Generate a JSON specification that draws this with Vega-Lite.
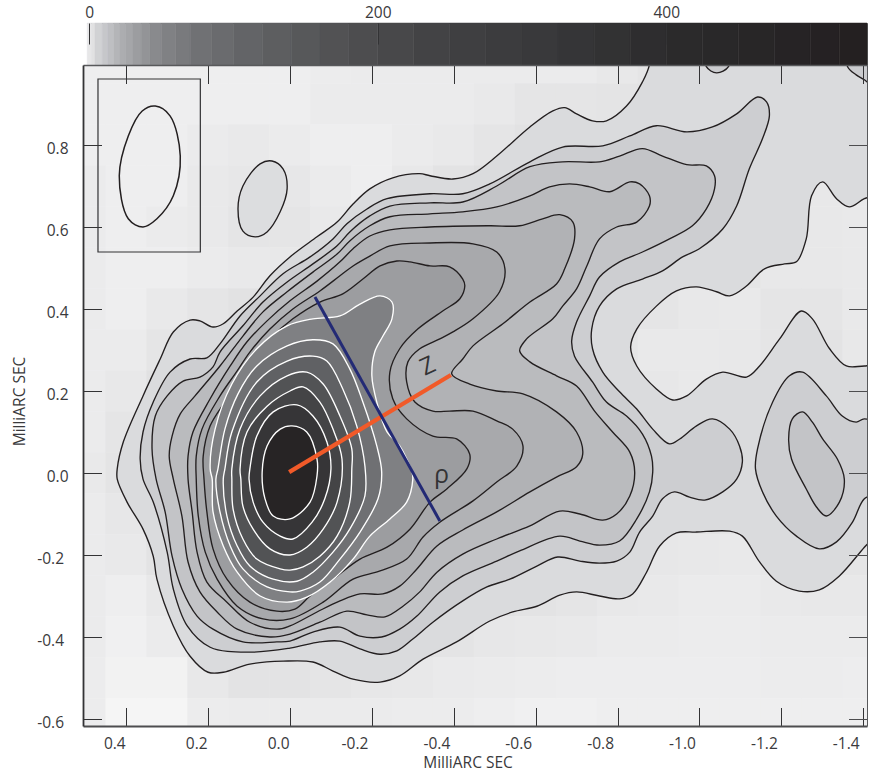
{"$schema":"https://vega.github.io/schema/vega-lite/v6.json","background":"white","padding":{"left":12,"top":4,"right":0,"bottom":2},"spacing":0,"bounds":"flush","resolve":{"scale":{"color":"independent","stroke":"independent","fill":"independent"}},"config":{"view":{"stroke":null},"font":"Open Sans","axis":{"labelFont":"Open Sans","titleFont":"Open Sans","labelFontSize":15.5,"titleFontSize":15.5,"titleFontWeight":"normal","labelColor":"#3a3a3c","titleColor":"#3a3a3c","grid":false,"zindex":1}},
"datasets":{
"bar":[{"from":-4.3,"to":-1.4,"v":0},{"from":-1.4,"to":1.4,"v":2.5},{"from":1.4,"to":4,"v":3.5},{"from":4,"to":9,"v":7},{"from":9,"to":13,"v":11},{"from":13,"to":17,"v":15},{"from":17,"to":21,"v":19},{"from":21,"to":25,"v":23},{"from":25,"to":30,"v":27},{"from":30,"to":36,"v":33},{"from":36,"to":42,"v":39},{"from":42,"to":50,"v":46},{"from":50,"to":60,"v":55},{"from":60,"to":70,"v":65},{"from":70,"to":85,"v":78},{"from":85,"to":100,"v":92},{"from":100,"to":120,"v":110},{"from":120,"to":140,"v":130},{"from":140,"to":160,"v":150},{"from":160,"to":180,"v":170},{"from":180,"to":200,"v":190},{"from":200,"to":225,"v":212},{"from":225,"to":250,"v":237},{"from":250,"to":275,"v":262},{"from":275,"to":300,"v":287},{"from":300,"to":325,"v":312},{"from":325,"to":350,"v":337},{"from":350,"to":375,"v":362},{"from":375,"to":400,"v":387},{"from":400,"to":425,"v":412},{"from":425,"to":450,"v":437},{"from":450,"to":475,"v":462},{"from":475,"to":500,"v":487},{"from":500,"to":520,"v":510},{"from":520,"to":539.2,"v":530}],
"grid":[
{"x":0.5,"y":1,"v":1.5},{"x":0.4,"y":1,"v":1.5},{"x":0.3,"y":1,"v":1.5},{"x":0.2,"y":1,"v":1.5},{"x":0.1,"y":1,"v":1.5},{"x":0,"y":1,"v":1.5},{"x":-0.1,"y":1,"v":1.8},{"x":-0.2,"y":1,"v":2},{"x":-0.3,"y":1,"v":2},{"x":-0.4,"y":1,"v":2},{"x":-0.5,"y":1,"v":2},{"x":-0.6,"y":1,"v":2},{"x":-0.7,"y":1,"v":2},{"x":-0.8,"y":1,"v":3},{"x":-0.9,"y":1,"v":4},{"x":-1,"y":1,"v":5},{"x":-1.1,"y":1,"v":5},{"x":-1.2,"y":1,"v":5},{"x":-1.3,"y":1,"v":5},{"x":-1.4,"y":1,"v":5},
{"x":0.5,"y":0.9,"v":1.5},{"x":0.4,"y":0.9,"v":1.5},{"x":0.3,"y":0.9,"v":1.5},{"x":0.2,"y":0.9,"v":1.5},{"x":0.1,"y":0.9,"v":1.5},{"x":0,"y":0.9,"v":1.5},{"x":-0.1,"y":0.9,"v":2},{"x":-0.2,"y":0.9,"v":2},{"x":-0.3,"y":0.9,"v":2},{"x":-0.4,"y":0.9,"v":2},{"x":-0.5,"y":0.9,"v":2.5},{"x":-0.6,"y":0.9,"v":4},{"x":-0.7,"y":0.9,"v":4},{"x":-0.8,"y":0.9,"v":4.5},{"x":-0.9,"y":0.9,"v":5},{"x":-1,"y":0.9,"v":5},{"x":-1.1,"y":0.9,"v":5},{"x":-1.2,"y":0.9,"v":4.5},{"x":-1.3,"y":0.9,"v":3.5},{"x":-1.4,"y":0.9,"v":3},
{"x":0.5,"y":0.8,"v":1.5},{"x":0.4,"y":0.8,"v":1.5},{"x":0.3,"y":0.8,"v":1.5},{"x":0.2,"y":0.8,"v":2},{"x":0.1,"y":0.8,"v":2.5},{"x":0,"y":0.8,"v":2},{"x":-0.1,"y":0.8,"v":1.5},{"x":-0.2,"y":0.8,"v":1.5},{"x":-0.3,"y":0.8,"v":2},{"x":-0.4,"y":0.8,"v":2.5},{"x":-0.5,"y":0.8,"v":4},{"x":-0.6,"y":0.8,"v":6},{"x":-0.7,"y":0.8,"v":8},{"x":-0.8,"y":0.8,"v":9},{"x":-0.9,"y":0.8,"v":8},{"x":-1,"y":0.8,"v":7},{"x":-1.1,"y":0.8,"v":6},{"x":-1.2,"y":0.8,"v":4},{"x":-1.3,"y":0.8,"v":3},{"x":-1.4,"y":0.8,"v":2.5},
{"x":0.5,"y":0.7,"v":2},{"x":0.4,"y":0.7,"v":1.5},{"x":0.3,"y":0.7,"v":1.5},{"x":0.2,"y":0.7,"v":2.5},{"x":0.1,"y":0.7,"v":3.5},{"x":0,"y":0.7,"v":3.5},{"x":-0.1,"y":0.7,"v":2},{"x":-0.2,"y":0.7,"v":1.5},{"x":-0.3,"y":0.7,"v":3},{"x":-0.4,"y":0.7,"v":5},{"x":-0.5,"y":0.7,"v":9},{"x":-0.6,"y":0.7,"v":11},{"x":-0.7,"y":0.7,"v":12},{"x":-0.8,"y":0.7,"v":12},{"x":-0.9,"y":0.7,"v":11},{"x":-1,"y":0.7,"v":8},{"x":-1.1,"y":0.7,"v":5},{"x":-1.2,"y":0.7,"v":3.5},{"x":-1.3,"y":0.7,"v":3},{"x":-1.4,"y":0.7,"v":2.5},
{"x":0.5,"y":0.6,"v":2},{"x":0.4,"y":0.6,"v":1.5},{"x":0.3,"y":0.6,"v":2},{"x":0.2,"y":0.6,"v":2.5},{"x":0.1,"y":0.6,"v":4},{"x":0,"y":0.6,"v":4},{"x":-0.1,"y":0.6,"v":2.5},{"x":-0.2,"y":0.6,"v":4},{"x":-0.3,"y":0.6,"v":8},{"x":-0.4,"y":0.6,"v":14},{"x":-0.5,"y":0.6,"v":16},{"x":-0.6,"y":0.6,"v":17},{"x":-0.7,"y":0.6,"v":15},{"x":-0.8,"y":0.6,"v":11},{"x":-0.9,"y":0.6,"v":8},{"x":-1,"y":0.6,"v":6},{"x":-1.1,"y":0.6,"v":4},{"x":-1.2,"y":0.6,"v":3},{"x":-1.3,"y":0.6,"v":3},{"x":-1.4,"y":0.6,"v":2.5},
{"x":0.5,"y":0.5,"v":2},{"x":0.4,"y":0.5,"v":1.5},{"x":0.3,"y":0.5,"v":1.5},{"x":0.2,"y":0.5,"v":2},{"x":0.1,"y":0.5,"v":2.5},{"x":0,"y":0.5,"v":3},{"x":-0.1,"y":0.5,"v":6},{"x":-0.2,"y":0.5,"v":14},{"x":-0.3,"y":0.5,"v":19},{"x":-0.4,"y":0.5,"v":22},{"x":-0.5,"y":0.5,"v":20},{"x":-0.6,"y":0.5,"v":17},{"x":-0.7,"y":0.5,"v":11},{"x":-0.8,"y":0.5,"v":8},{"x":-0.9,"y":0.5,"v":5.5},{"x":-1,"y":0.5,"v":4.5},{"x":-1.1,"y":0.5,"v":4},{"x":-1.2,"y":0.5,"v":3},{"x":-1.3,"y":0.5,"v":3},{"x":-1.4,"y":0.5,"v":2.5},
{"x":0.5,"y":0.4,"v":2},{"x":0.4,"y":0.4,"v":1.5},{"x":0.3,"y":0.4,"v":2.5},{"x":0.2,"y":0.4,"v":4},{"x":0.1,"y":0.4,"v":6},{"x":0,"y":0.4,"v":14},{"x":-0.1,"y":0.4,"v":33},{"x":-0.2,"y":0.4,"v":40},{"x":-0.3,"y":0.4,"v":30},{"x":-0.4,"y":0.4,"v":24},{"x":-0.5,"y":0.4,"v":17},{"x":-0.6,"y":0.4,"v":13},{"x":-0.7,"y":0.4,"v":8},{"x":-0.8,"y":0.4,"v":6},{"x":-0.9,"y":0.4,"v":4},{"x":-1,"y":0.4,"v":3},{"x":-1.1,"y":0.4,"v":2.5},{"x":-1.2,"y":0.4,"v":4},{"x":-1.3,"y":0.4,"v":4},{"x":-1.4,"y":0.4,"v":2.5},
{"x":0.5,"y":0.3,"v":2},{"x":0.4,"y":0.3,"v":2},{"x":0.3,"y":0.3,"v":4},{"x":0.2,"y":0.3,"v":8},{"x":0.1,"y":0.3,"v":15},{"x":0,"y":0.3,"v":40},{"x":-0.1,"y":0.3,"v":70},{"x":-0.2,"y":0.3,"v":50},{"x":-0.3,"y":0.3,"v":27},{"x":-0.4,"y":0.3,"v":19},{"x":-0.5,"y":0.3,"v":15},{"x":-0.6,"y":0.3,"v":11},{"x":-0.7,"y":0.3,"v":7},{"x":-0.8,"y":0.3,"v":4},{"x":-0.9,"y":0.3,"v":2.5},{"x":-1,"y":0.3,"v":2.5},{"x":-1.1,"y":0.3,"v":3},{"x":-1.2,"y":0.3,"v":4},{"x":-1.3,"y":0.3,"v":5},{"x":-1.4,"y":0.3,"v":3},
{"x":0.5,"y":0.2,"v":2},{"x":0.4,"y":0.2,"v":3},{"x":0.3,"y":0.2,"v":7},{"x":0.2,"y":0.2,"v":14},{"x":0.1,"y":0.2,"v":33},{"x":0,"y":0.2,"v":110},{"x":-0.1,"y":0.2,"v":110},{"x":-0.2,"y":0.2,"v":50},{"x":-0.3,"y":0.2,"v":24},{"x":-0.4,"y":0.2,"v":19},{"x":-0.5,"y":0.2,"v":16},{"x":-0.6,"y":0.2,"v":13},{"x":-0.7,"y":0.2,"v":9},{"x":-0.8,"y":0.2,"v":5},{"x":-0.9,"y":0.2,"v":3.5},{"x":-1,"y":0.2,"v":2.5},{"x":-1.1,"y":0.2,"v":3},{"x":-1.2,"y":0.2,"v":4.5},{"x":-1.3,"y":0.2,"v":6},{"x":-1.4,"y":0.2,"v":4},
{"x":0.5,"y":0.1,"v":2},{"x":0.4,"y":0.1,"v":4},{"x":0.3,"y":0.1,"v":9},{"x":0.2,"y":0.1,"v":17},{"x":0.1,"y":0.1,"v":50},{"x":0,"y":0.1,"v":200},{"x":-0.1,"y":0.1,"v":170},{"x":-0.2,"y":0.1,"v":70},{"x":-0.3,"y":0.1,"v":30},{"x":-0.4,"y":0.1,"v":24},{"x":-0.5,"y":0.1,"v":20},{"x":-0.6,"y":0.1,"v":15},{"x":-0.7,"y":0.1,"v":12},{"x":-0.8,"y":0.1,"v":7},{"x":-0.9,"y":0.1,"v":5},{"x":-1,"y":0.1,"v":5},{"x":-1.1,"y":0.1,"v":6},{"x":-1.2,"y":0.1,"v":5},{"x":-1.3,"y":0.1,"v":9},{"x":-1.4,"y":0.1,"v":5},
{"x":0.5,"y":0,"v":2.5},{"x":0.4,"y":0,"v":4.5},{"x":0.3,"y":0,"v":10},{"x":0.2,"y":0,"v":20},{"x":0.1,"y":0,"v":60},{"x":0,"y":0,"v":500},{"x":-0.1,"y":0,"v":280},{"x":-0.2,"y":0,"v":90},{"x":-0.3,"y":0,"v":45},{"x":-0.4,"y":0,"v":27},{"x":-0.5,"y":0,"v":20},{"x":-0.6,"y":0,"v":17},{"x":-0.7,"y":0,"v":13},{"x":-0.8,"y":0,"v":8},{"x":-0.9,"y":0,"v":7},{"x":-1,"y":0,"v":7},{"x":-1.1,"y":0,"v":6},{"x":-1.2,"y":0,"v":5.5},{"x":-1.3,"y":0,"v":13},{"x":-1.4,"y":0,"v":8},
{"x":0.5,"y":-0.1,"v":2},{"x":0.4,"y":-0.1,"v":3.5},{"x":0.3,"y":-0.1,"v":8},{"x":0.2,"y":-0.1,"v":18},{"x":0.1,"y":-0.1,"v":55},{"x":0,"y":-0.1,"v":400},{"x":-0.1,"y":-0.1,"v":220},{"x":-0.2,"y":-0.1,"v":70},{"x":-0.3,"y":-0.1,"v":35},{"x":-0.4,"y":-0.1,"v":22},{"x":-0.5,"y":-0.1,"v":17},{"x":-0.6,"y":-0.1,"v":14},{"x":-0.7,"y":-0.1,"v":11},{"x":-0.8,"y":-0.1,"v":7},{"x":-0.9,"y":-0.1,"v":5},{"x":-1,"y":-0.1,"v":5},{"x":-1.1,"y":-0.1,"v":4},{"x":-1.2,"y":-0.1,"v":5},{"x":-1.3,"y":-0.1,"v":9},{"x":-1.4,"y":-0.1,"v":6},
{"x":0.5,"y":-0.2,"v":2},{"x":0.4,"y":-0.2,"v":2.5},{"x":0.3,"y":-0.2,"v":5},{"x":0.2,"y":-0.2,"v":14},{"x":0.1,"y":-0.2,"v":30},{"x":0,"y":-0.2,"v":170},{"x":-0.1,"y":-0.2,"v":90},{"x":-0.2,"y":-0.2,"v":40},{"x":-0.3,"y":-0.2,"v":20},{"x":-0.4,"y":-0.2,"v":16},{"x":-0.5,"y":-0.2,"v":12},{"x":-0.6,"y":-0.2,"v":8},{"x":-0.7,"y":-0.2,"v":6},{"x":-0.8,"y":-0.2,"v":6},{"x":-0.9,"y":-0.2,"v":3.5},{"x":-1,"y":-0.2,"v":3},{"x":-1.1,"y":-0.2,"v":2.5},{"x":-1.2,"y":-0.2,"v":3.5},{"x":-1.3,"y":-0.2,"v":6},{"x":-1.4,"y":-0.2,"v":4},
{"x":0.5,"y":-0.3,"v":2},{"x":0.4,"y":-0.3,"v":1.5},{"x":0.3,"y":-0.3,"v":3},{"x":0.2,"y":-0.3,"v":9},{"x":0.1,"y":-0.3,"v":17},{"x":0,"y":-0.3,"v":45},{"x":-0.1,"y":-0.3,"v":30},{"x":-0.2,"y":-0.3,"v":20},{"x":-0.3,"y":-0.3,"v":14},{"x":-0.4,"y":-0.3,"v":10},{"x":-0.5,"y":-0.3,"v":7},{"x":-0.6,"y":-0.3,"v":5},{"x":-0.7,"y":-0.3,"v":4},{"x":-0.8,"y":-0.3,"v":3},{"x":-0.9,"y":-0.3,"v":2.5},{"x":-1,"y":-0.3,"v":2},{"x":-1.1,"y":-0.3,"v":2},{"x":-1.2,"y":-0.3,"v":2.5},{"x":-1.3,"y":-0.3,"v":3},{"x":-1.4,"y":-0.3,"v":3},
{"x":0.5,"y":-0.4,"v":2},{"x":0.4,"y":-0.4,"v":1.2},{"x":0.3,"y":-0.4,"v":2},{"x":0.2,"y":-0.4,"v":6},{"x":0.1,"y":-0.4,"v":10},{"x":0,"y":-0.4,"v":14},{"x":-0.1,"y":-0.4,"v":11},{"x":-0.2,"y":-0.4,"v":9},{"x":-0.3,"y":-0.4,"v":7},{"x":-0.4,"y":-0.4,"v":4.5},{"x":-0.5,"y":-0.4,"v":3.5},{"x":-0.6,"y":-0.4,"v":3},{"x":-0.7,"y":-0.4,"v":2.5},{"x":-0.8,"y":-0.4,"v":2},{"x":-0.9,"y":-0.4,"v":2},{"x":-1,"y":-0.4,"v":1.8},{"x":-1.1,"y":-0.4,"v":1.8},{"x":-1.2,"y":-0.4,"v":2},{"x":-1.3,"y":-0.4,"v":2},{"x":-1.4,"y":-0.4,"v":2},
{"x":0.5,"y":-0.5,"v":1.8},{"x":0.4,"y":-0.5,"v":1},{"x":0.3,"y":-0.5,"v":1},{"x":0.2,"y":-0.5,"v":3},{"x":0.1,"y":-0.5,"v":5},{"x":0,"y":-0.5,"v":5},{"x":-0.1,"y":-0.5,"v":4},{"x":-0.2,"y":-0.5,"v":3.5},{"x":-0.3,"y":-0.5,"v":3},{"x":-0.4,"y":-0.5,"v":2.2},{"x":-0.5,"y":-0.5,"v":2},{"x":-0.6,"y":-0.5,"v":1.8},{"x":-0.7,"y":-0.5,"v":1.6},{"x":-0.8,"y":-0.5,"v":1.6},{"x":-0.9,"y":-0.5,"v":1.6},{"x":-1,"y":-0.5,"v":1.6},{"x":-1.1,"y":-0.5,"v":1.6},{"x":-1.2,"y":-0.5,"v":1.8},{"x":-1.3,"y":-0.5,"v":1.8},{"x":-1.4,"y":-0.5,"v":1.6},
{"x":0.5,"y":-0.6,"v":1.8},{"x":0.4,"y":-0.6,"v":0.8},{"x":0.3,"y":-0.6,"v":0.8},{"x":0.2,"y":-0.6,"v":1.8},{"x":0.1,"y":-0.6,"v":2},{"x":0,"y":-0.6,"v":2},{"x":-0.1,"y":-0.6,"v":2},{"x":-0.2,"y":-0.6,"v":2},{"x":-0.3,"y":-0.6,"v":1.8},{"x":-0.4,"y":-0.6,"v":1.8},{"x":-0.5,"y":-0.6,"v":1.5},{"x":-0.6,"y":-0.6,"v":1.2},{"x":-0.7,"y":-0.6,"v":1.2},{"x":-0.8,"y":-0.6,"v":1.5},{"x":-0.9,"y":-0.6,"v":1.5},{"x":-1,"y":-0.6,"v":1.5},{"x":-1.1,"y":-0.6,"v":1.5},{"x":-1.2,"y":-0.6,"v":1.5},{"x":-1.3,"y":-0.6,"v":1.5},{"x":-1.4,"y":-0.6,"v":1.5}
],
"contours":[
{"contour":1,"x":-0.878,"y":1.059},{"contour":1,"x":-0.878,"y":0.996},{"contour":1,"x":-0.861,"y":0.954},{"contour":1,"x":-0.822,"y":0.895},{"contour":1,"x":-0.773,"y":0.859},{"contour":1,"x":-0.739,"y":0.859},{"contour":1,"x":-0.7,"y":0.876},{"contour":1,"x":-0.671,"y":0.891},{"contour":1,"x":-0.642,"y":0.883},{"contour":1,"x":-0.586,"y":0.844},{"contour":1,"x":-0.505,"y":0.773},{"contour":1,"x":-0.447,"y":0.73},{"contour":1,"x":-0.398,"y":0.717},{"contour":1,"x":-0.342,"y":0.725},{"contour":1,"x":-0.317,"y":0.73},{"contour":1,"x":-0.251,"y":0.72},{"contour":1,"x":-0.195,"y":0.693},{"contour":1,"x":-0.154,"y":0.656},{"contour":1,"x":-0.115,"y":0.612},{"contour":1,"x":-0.066,"y":0.576},{"contour":1,"x":0,"y":0.527},{"contour":1,"x":0.049,"y":0.481},{"contour":1,"x":0.09,"y":0.429},{"contour":1,"x":0.129,"y":0.395},{"contour":1,"x":0.163,"y":0.364},{"contour":1,"x":0.188,"y":0.356},{"contour":1,"x":0.22,"y":0.371},{"contour":1,"x":0.244,"y":0.373},{"contour":1,"x":0.285,"y":0.344},{"contour":1,"x":0.317,"y":0.278},{"contour":1,"x":0.359,"y":0.188},{"contour":1,"x":0.407,"y":0.076},{"contour":1,"x":0.422,"y":0.01},{"contour":1,"x":0.422,"y":-0.015},{"contour":1,"x":0.398,"y":-0.071},{"contour":1,"x":0.359,"y":-0.137},{"contour":1,"x":0.334,"y":-0.203},{"contour":1,"x":0.325,"y":-0.259},{"contour":1,"x":0.285,"y":-0.373},{"contour":1,"x":0.244,"y":-0.447},{"contour":1,"x":0.2,"y":-0.486},{"contour":1,"x":0.163,"y":-0.486},{"contour":1,"x":0.098,"y":-0.466},{"contour":1,"x":0.017,"y":-0.459},{"contour":1,"x":-0.056,"y":-0.461},{"contour":1,"x":-0.105,"y":-0.483},{"contour":1,"x":-0.154,"y":-0.503},{"contour":1,"x":-0.22,"y":-0.51},{"contour":1,"x":-0.268,"y":-0.495},{"contour":1,"x":-0.325,"y":-0.454},{"contour":1,"x":-0.407,"y":-0.412},{"contour":1,"x":-0.488,"y":-0.361},{"contour":1,"x":-0.544,"y":-0.339},{"contour":1,"x":-0.603,"y":-0.325},{"contour":1,"x":-0.659,"y":-0.298},{"contour":1,"x":-0.7,"y":-0.29},{"contour":1,"x":-0.756,"y":-0.3},{"contour":1,"x":-0.805,"y":-0.307},{"contour":1,"x":-0.837,"y":-0.295},{"contour":1,"x":-0.871,"y":-0.242},{"contour":1,"x":-0.903,"y":-0.178},{"contour":1,"x":-0.944,"y":-0.146},{"contour":1,"x":-0.993,"y":-0.144},{"contour":1,"x":-1.074,"y":-0.142},{"contour":1,"x":-1.105,"y":-0.154},{"contour":1,"x":-1.147,"y":-0.217},{"contour":1,"x":-1.188,"y":-0.264},{"contour":1,"x":-1.244,"y":-0.288},{"contour":1,"x":-1.293,"y":-0.285},{"contour":1,"x":-1.342,"y":-0.251},{"contour":1,"x":-1.403,"y":-0.181},{"contour":1,"x":-1.464,"y":-0.112},{"contour":1,"x":-1.464,"y":0.261},{"contour":1,"x":-1.403,"y":0.261},{"contour":1,"x":-1.359,"y":0.261},{"contour":1,"x":-1.318,"y":0.303},{"contour":1,"x":-1.276,"y":0.376},{"contour":1,"x":-1.249,"y":0.395},{"contour":1,"x":-1.196,"y":0.327},{"contour":1,"x":-1.147,"y":0.261},{"contour":1,"x":-1.115,"y":0.234},{"contour":1,"x":-1.057,"y":0.246},{"contour":1,"x":-1.017,"y":0.229},{"contour":1,"x":-0.969,"y":0.188},{"contour":1,"x":-0.935,"y":0.178},{"contour":1,"x":-0.895,"y":0.205},{"contour":1,"x":-0.847,"y":0.261},{"contour":1,"x":-0.832,"y":0.307},{"contour":1,"x":-0.847,"y":0.351},{"contour":1,"x":-0.895,"y":0.407},{"contour":1,"x":-0.944,"y":0.444},{"contour":1,"x":-0.993,"y":0.454},{"contour":1,"x":-1.042,"y":0.442},{"contour":1,"x":-1.074,"y":0.432},{"contour":1,"x":-1.115,"y":0.456},{"contour":1,"x":-1.159,"y":0.498},{"contour":1,"x":-1.208,"y":0.51},{"contour":1,"x":-1.237,"y":0.515},{"contour":1,"x":-1.261,"y":0.571},{"contour":1,"x":-1.274,"y":0.676},{"contour":1,"x":-1.301,"y":0.71},{"contour":1,"x":-1.335,"y":0.669},{"contour":1,"x":-1.366,"y":0.649},{"contour":1,"x":-1.403,"y":0.669},{"contour":1,"x":-1.464,"y":0.693},{"contour":1,"x":-1.464,"y":1.059},
{"contour":17,"x":0.044,"y":0.761},{"contour":17,"x":0.017,"y":0.742},{"contour":17,"x":0.007,"y":0.693},{"contour":17,"x":0.024,"y":0.637},{"contour":17,"x":0.056,"y":0.588},{"contour":17,"x":0.085,"y":0.576},{"contour":17,"x":0.115,"y":0.59},{"contour":17,"x":0.127,"y":0.644},{"contour":17,"x":0.115,"y":0.7},{"contour":17,"x":0.073,"y":0.754},
{"contour":18,"x":-1.017,"y":1.035},{"contour":18,"x":-1.017,"y":0.991},{"contour":18,"x":-1.042,"y":0.976},{"contour":18,"x":-1.071,"y":0.991},{"contour":18,"x":-1.071,"y":1.035},
{"contour":19,"x":-1.362,"y":1.035},{"contour":19,"x":-1.362,"y":0.991},{"contour":19,"x":-1.383,"y":0.971},{"contour":19,"x":-1.403,"y":0.959},{"contour":19,"x":-1.452,"y":0.925},{"contour":19,"x":-1.452,"y":1.035},
{"contour":2,"x":0.366,"y":0.034},{"contour":2,"x":0.359,"y":-0.015},{"contour":2,"x":0.334,"y":-0.071},{"contour":2,"x":0.3,"y":-0.193},{"contour":2,"x":0.285,"y":-0.283},{"contour":2,"x":0.251,"y":-0.373},{"contour":2,"x":0.195,"y":-0.425},{"contour":2,"x":0.098,"y":-0.437},{"contour":2,"x":0,"y":-0.427},{"contour":2,"x":-0.073,"y":-0.412},{"contour":2,"x":-0.122,"y":-0.41},{"contour":2,"x":-0.171,"y":-0.429},{"contour":2,"x":-0.22,"y":-0.442},{"contour":2,"x":-0.261,"y":-0.434},{"contour":2,"x":-0.3,"y":-0.405},{"contour":2,"x":-0.349,"y":-0.364},{"contour":2,"x":-0.422,"y":-0.312},{"contour":2,"x":-0.481,"y":-0.278},{"contour":2,"x":-0.537,"y":-0.259},{"contour":2,"x":-0.603,"y":-0.227},{"contour":2,"x":-0.654,"y":-0.205},{"contour":2,"x":-0.708,"y":-0.215},{"contour":2,"x":-0.756,"y":-0.22},{"contour":2,"x":-0.798,"y":-0.215},{"contour":2,"x":-0.83,"y":-0.193},{"contour":2,"x":-0.854,"y":-0.144},{"contour":2,"x":-0.886,"y":-0.105},{"contour":2,"x":-0.91,"y":-0.063},{"contour":2,"x":-0.939,"y":-0.046},{"contour":2,"x":-0.976,"y":-0.059},{"contour":2,"x":-1.013,"y":-0.066},{"contour":2,"x":-1.057,"y":-0.046},{"contour":2,"x":-1.091,"y":-0.015},{"contour":2,"x":-1.105,"y":0.027},{"contour":2,"x":-1.098,"y":0.066},{"contour":2,"x":-1.074,"y":0.107},{"contour":2,"x":-1.032,"y":0.132},{"contour":2,"x":-0.993,"y":0.115},{"contour":2,"x":-0.952,"y":0.083},{"contour":2,"x":-0.927,"y":0.071},{"contour":2,"x":-0.886,"y":0.107},{"contour":2,"x":-0.847,"y":0.156},{"contour":2,"x":-0.805,"y":0.198},{"contour":2,"x":-0.764,"y":0.246},{"contour":2,"x":-0.739,"y":0.303},{"contour":2,"x":-0.737,"y":0.351},{"contour":2,"x":-0.756,"y":0.407},{"contour":2,"x":-0.798,"y":0.449},{"contour":2,"x":-0.861,"y":0.473},{"contour":2,"x":-0.91,"y":0.493},{"contour":2,"x":-0.959,"y":0.527},{"contour":2,"x":-1,"y":0.547},{"contour":2,"x":-1.057,"y":0.595},{"contour":2,"x":-1.091,"y":0.651},{"contour":2,"x":-1.122,"y":0.742},{"contour":2,"x":-1.154,"y":0.815},{"contour":2,"x":-1.171,"y":0.871},{"contour":2,"x":-1.164,"y":0.905},{"contour":2,"x":-1.142,"y":0.917},{"contour":2,"x":-1.091,"y":0.876},{"contour":2,"x":-1.032,"y":0.844},{"contour":2,"x":-0.969,"y":0.832},{"contour":2,"x":-0.895,"y":0.847},{"contour":2,"x":-0.83,"y":0.822},{"contour":2,"x":-0.764,"y":0.798},{"contour":2,"x":-0.666,"y":0.795},{"contour":2,"x":-0.586,"y":0.759},{"contour":2,"x":-0.488,"y":0.705},{"contour":2,"x":-0.422,"y":0.681},{"contour":2,"x":-0.342,"y":0.681},{"contour":2,"x":-0.237,"y":0.669},{"contour":2,"x":-0.188,"y":0.644},{"contour":2,"x":-0.139,"y":0.608},{"contour":2,"x":-0.105,"y":0.571},{"contour":2,"x":-0.049,"y":0.527},{"contour":2,"x":0.017,"y":0.486},{"contour":2,"x":0.073,"y":0.432},{"contour":2,"x":0.122,"y":0.383},{"contour":2,"x":0.171,"y":0.315},{"contour":2,"x":0.203,"y":0.281},{"contour":2,"x":0.244,"y":0.278},{"contour":2,"x":0.293,"y":0.246},{"contour":2,"x":0.334,"y":0.173},{"contour":2,"x":0.359,"y":0.1},
{"contour":15,"x":-1.452,"y":0.107},{"contour":15,"x":-1.403,"y":0.132},{"contour":15,"x":-1.383,"y":0.124},{"contour":15,"x":-1.349,"y":0.139},{"contour":15,"x":-1.31,"y":0.188},{"contour":15,"x":-1.252,"y":0.246},{"contour":15,"x":-1.22,"y":0.237},{"contour":15,"x":-1.179,"y":0.173},{"contour":15,"x":-1.142,"y":0.059},{"contour":15,"x":-1.137,"y":0.01},{"contour":15,"x":-1.154,"y":-0.046},{"contour":15,"x":-1.188,"y":-0.105},{"contour":15,"x":-1.237,"y":-0.154},{"contour":15,"x":-1.293,"y":-0.185},{"contour":15,"x":-1.335,"y":-0.168},{"contour":15,"x":-1.374,"y":-0.12},{"contour":15,"x":-1.403,"y":-0.063},{"contour":15,"x":-1.452,"y":-0.039},
{"contour":3,"x":0.337,"y":0.059},{"contour":3,"x":0.327,"y":-0.015},{"contour":3,"x":0.305,"y":-0.095},{"contour":3,"x":0.288,"y":-0.203},{"contour":3,"x":0.264,"y":-0.283},{"contour":3,"x":0.227,"y":-0.349},{"contour":3,"x":0.188,"y":-0.381},{"contour":3,"x":0.115,"y":-0.412},{"contour":3,"x":0.032,"y":-0.412},{"contour":3,"x":0,"y":-0.41},{"contour":3,"x":-0.056,"y":-0.388},{"contour":3,"x":-0.122,"y":-0.376},{"contour":3,"x":-0.171,"y":-0.398},{"contour":3,"x":-0.224,"y":-0.4},{"contour":3,"x":-0.268,"y":-0.381},{"contour":3,"x":-0.31,"y":-0.349},{"contour":3,"x":-0.366,"y":-0.29},{"contour":3,"x":-0.422,"y":-0.251},{"contour":3,"x":-0.505,"y":-0.215},{"contour":3,"x":-0.561,"y":-0.19},{"contour":3,"x":-0.659,"y":-0.154},{"contour":3,"x":-0.708,"y":-0.166},{"contour":3,"x":-0.756,"y":-0.176},{"contour":3,"x":-0.805,"y":-0.166},{"contour":3,"x":-0.847,"y":-0.112},{"contour":3,"x":-0.878,"y":-0.046},{"contour":3,"x":-0.886,"y":0.002},{"contour":3,"x":-0.883,"y":0.041},{"contour":3,"x":-0.861,"y":0.095},{"contour":3,"x":-0.822,"y":0.139},{"contour":3,"x":-0.773,"y":0.173},{"contour":3,"x":-0.739,"y":0.222},{"contour":3,"x":-0.695,"y":0.285},{"contour":3,"x":-0.688,"y":0.322},{"contour":3,"x":-0.7,"y":0.368},{"contour":3,"x":-0.732,"y":0.432},{"contour":3,"x":-0.756,"y":0.478},{"contour":3,"x":-0.805,"y":0.515},{"contour":3,"x":-0.861,"y":0.539},{"contour":3,"x":-0.927,"y":0.571},{"contour":3,"x":-0.983,"y":0.603},{"contour":3,"x":-1.017,"y":0.644},{"contour":3,"x":-1.037,"y":0.693},{"contour":3,"x":-1.037,"y":0.725},{"contour":3,"x":-1.017,"y":0.749},{"contour":3,"x":-0.969,"y":0.752},{"contour":3,"x":-0.91,"y":0.773},{"contour":3,"x":-0.861,"y":0.791},{"contour":3,"x":-0.805,"y":0.773},{"contour":3,"x":-0.756,"y":0.759},{"contour":3,"x":-0.666,"y":0.759},{"contour":3,"x":-0.586,"y":0.747},{"contour":3,"x":-0.505,"y":0.7},{"contour":3,"x":-0.422,"y":0.661},{"contour":3,"x":-0.342,"y":0.659},{"contour":3,"x":-0.244,"y":0.651},{"contour":3,"x":-0.195,"y":0.627},{"contour":3,"x":-0.146,"y":0.588},{"contour":3,"x":-0.115,"y":0.554},{"contour":3,"x":-0.056,"y":0.51},{"contour":3,"x":0.007,"y":0.466},{"contour":3,"x":0.066,"y":0.417},{"contour":3,"x":0.115,"y":0.359},{"contour":3,"x":0.171,"y":0.295},{"contour":3,"x":0.188,"y":0.259},{"contour":3,"x":0.22,"y":0.234},{"contour":3,"x":0.261,"y":0.224},{"contour":3,"x":0.3,"y":0.188},{"contour":3,"x":0.329,"y":0.139},
{"contour":16,"x":-1.252,"y":0.149},{"contour":16,"x":-1.227,"y":0.132},{"contour":16,"x":-1.218,"y":0.083},{"contour":16,"x":-1.225,"y":0.034},{"contour":16,"x":-1.261,"y":-0.039},{"contour":16,"x":-1.286,"y":-0.083},{"contour":16,"x":-1.31,"y":-0.105},{"contour":16,"x":-1.342,"y":-0.071},{"contour":16,"x":-1.354,"y":-0.015},{"contour":16,"x":-1.337,"y":0.034},{"contour":16,"x":-1.301,"y":0.083},{"contour":16,"x":-1.276,"y":0.124},
{"contour":4,"x":0.295,"y":0.041},{"contour":4,"x":0.285,"y":-0.015},{"contour":4,"x":0.264,"y":-0.105},{"contour":4,"x":0.249,"y":-0.217},{"contour":4,"x":0.22,"y":-0.29},{"contour":4,"x":0.178,"y":-0.339},{"contour":4,"x":0.129,"y":-0.381},{"contour":4,"x":0.049,"y":-0.4},{"contour":4,"x":0,"y":-0.393},{"contour":4,"x":-0.073,"y":-0.364},{"contour":4,"x":-0.139,"y":-0.337},{"contour":4,"x":-0.188,"y":-0.346},{"contour":4,"x":-0.232,"y":-0.351},{"contour":4,"x":-0.276,"y":-0.325},{"contour":4,"x":-0.317,"y":-0.29},{"contour":4,"x":-0.359,"y":-0.242},{"contour":4,"x":-0.422,"y":-0.198},{"contour":4,"x":-0.505,"y":-0.161},{"contour":4,"x":-0.586,"y":-0.129},{"contour":4,"x":-0.659,"y":-0.093},{"contour":4,"x":-0.708,"y":-0.1},{"contour":4,"x":-0.764,"y":-0.115},{"contour":4,"x":-0.798,"y":-0.1},{"contour":4,"x":-0.83,"y":-0.056},{"contour":4,"x":-0.842,"y":0.002},{"contour":4,"x":-0.83,"y":0.051},{"contour":4,"x":-0.788,"y":0.1},{"contour":4,"x":-0.744,"y":0.151},{"contour":4,"x":-0.7,"y":0.212},{"contour":4,"x":-0.651,"y":0.237},{"contour":4,"x":-0.586,"y":0.271},{"contour":4,"x":-0.561,"y":0.298},{"contour":4,"x":-0.578,"y":0.327},{"contour":4,"x":-0.642,"y":0.376},{"contour":4,"x":-0.666,"y":0.407},{"contour":4,"x":-0.7,"y":0.449},{"contour":4,"x":-0.725,"y":0.505},{"contour":4,"x":-0.756,"y":0.571},{"contour":4,"x":-0.798,"y":0.6},{"contour":4,"x":-0.847,"y":0.612},{"contour":4,"x":-0.878,"y":0.651},{"contour":4,"x":-0.878,"y":0.676},{"contour":4,"x":-0.854,"y":0.705},{"contour":4,"x":-0.83,"y":0.71},{"contour":4,"x":-0.781,"y":0.686},{"contour":4,"x":-0.732,"y":0.698},{"contour":4,"x":-0.683,"y":0.705},{"contour":4,"x":-0.634,"y":0.698},{"contour":4,"x":-0.586,"y":0.676},{"contour":4,"x":-0.505,"y":0.649},{"contour":4,"x":-0.422,"y":0.637},{"contour":4,"x":-0.342,"y":0.632},{"contour":4,"x":-0.244,"y":0.625},{"contour":4,"x":-0.195,"y":0.603},{"contour":4,"x":-0.146,"y":0.566},{"contour":4,"x":-0.115,"y":0.534},{"contour":4,"x":-0.056,"y":0.49},{"contour":4,"x":0.007,"y":0.442},{"contour":4,"x":0.066,"y":0.393},{"contour":4,"x":0.115,"y":0.334},{"contour":4,"x":0.171,"y":0.261},{"contour":4,"x":0.232,"y":0.188},{"contour":4,"x":0.268,"y":0.144},{"contour":4,"x":0.288,"y":0.09},
{"contour":5,"x":0.249,"y":0.041},{"contour":5,"x":0.249,"y":-0.015},{"contour":5,"x":0.239,"y":-0.095},{"contour":5,"x":0.227,"y":-0.193},{"contour":5,"x":0.203,"y":-0.266},{"contour":5,"x":0.154,"y":-0.315},{"contour":5,"x":0.098,"y":-0.364},{"contour":5,"x":0.032,"y":-0.381},{"contour":5,"x":0,"y":-0.373},{"contour":5,"x":-0.066,"y":-0.339},{"contour":5,"x":-0.122,"y":-0.312},{"contour":5,"x":-0.171,"y":-0.295},{"contour":5,"x":-0.227,"y":-0.295},{"contour":5,"x":-0.268,"y":-0.276},{"contour":5,"x":-0.31,"y":-0.234},{"contour":5,"x":-0.359,"y":-0.178},{"contour":5,"x":-0.422,"y":-0.139},{"contour":5,"x":-0.505,"y":-0.095},{"contour":5,"x":-0.586,"y":-0.046},{"contour":5,"x":-0.651,"y":-0.01},{"contour":5,"x":-0.7,"y":0.015},{"contour":5,"x":-0.715,"y":0.046},{"contour":5,"x":-0.7,"y":0.1},{"contour":5,"x":-0.651,"y":0.149},{"contour":5,"x":-0.569,"y":0.193},{"contour":5,"x":-0.505,"y":0.2},{"contour":5,"x":-0.439,"y":0.217},{"contour":5,"x":-0.395,"y":0.242},{"contour":5,"x":-0.422,"y":0.278},{"contour":5,"x":-0.447,"y":0.31},{"contour":5,"x":-0.52,"y":0.364},{"contour":5,"x":-0.586,"y":0.417},{"contour":5,"x":-0.651,"y":0.461},{"contour":5,"x":-0.671,"y":0.498},{"contour":5,"x":-0.695,"y":0.571},{"contour":5,"x":-0.691,"y":0.612},{"contour":5,"x":-0.659,"y":0.63},{"contour":5,"x":-0.617,"y":0.62},{"contour":5,"x":-0.561,"y":0.603},{"contour":5,"x":-0.488,"y":0.603},{"contour":5,"x":-0.342,"y":0.6},{"contour":5,"x":-0.244,"y":0.593},{"contour":5,"x":-0.195,"y":0.578},{"contour":5,"x":-0.154,"y":0.547},{"contour":5,"x":-0.122,"y":0.515},{"contour":5,"x":-0.066,"y":0.468},{"contour":5,"x":0,"y":0.42},{"contour":5,"x":0.056,"y":0.371},{"contour":5,"x":0.105,"y":0.32},{"contour":5,"x":0.146,"y":0.261},{"contour":5,"x":0.195,"y":0.181},{"contour":5,"x":0.237,"y":0.1},
{"contour":6,"x":0.229,"y":0.041},{"contour":6,"x":0.229,"y":-0.015},{"contour":6,"x":0.224,"y":-0.105},{"contour":6,"x":0.207,"y":-0.193},{"contour":6,"x":0.178,"y":-0.259},{"contour":6,"x":0.129,"y":-0.325},{"contour":6,"x":0.066,"y":-0.356},{"contour":6,"x":0,"y":-0.356},{"contour":6,"x":-0.081,"y":-0.315},{"contour":6,"x":-0.154,"y":-0.259},{"contour":6,"x":-0.22,"y":-0.239},{"contour":6,"x":-0.285,"y":-0.21},{"contour":6,"x":-0.325,"y":-0.156},{"contour":6,"x":-0.366,"y":-0.12},{"contour":6,"x":-0.447,"y":-0.068},{"contour":6,"x":-0.505,"y":-0.022},{"contour":6,"x":-0.554,"y":0.017},{"contour":6,"x":-0.569,"y":0.066},{"contour":6,"x":-0.544,"y":0.107},{"contour":6,"x":-0.505,"y":0.127},{"contour":6,"x":-0.447,"y":0.151},{"contour":6,"x":-0.39,"y":0.151},{"contour":6,"x":-0.349,"y":0.151},{"contour":6,"x":-0.305,"y":0.173},{"contour":6,"x":-0.285,"y":0.222},{"contour":6,"x":-0.288,"y":0.271},{"contour":6,"x":-0.317,"y":0.303},{"contour":6,"x":-0.366,"y":0.327},{"contour":6,"x":-0.398,"y":0.344},{"contour":6,"x":-0.447,"y":0.376},{"contour":6,"x":-0.512,"y":0.442},{"contour":6,"x":-0.525,"y":0.498},{"contour":6,"x":-0.505,"y":0.539},{"contour":6,"x":-0.447,"y":0.559},{"contour":6,"x":-0.342,"y":0.561},{"contour":6,"x":-0.244,"y":0.554},{"contour":6,"x":-0.195,"y":0.529},{"contour":6,"x":-0.154,"y":0.505},{"contour":6,"x":-0.122,"y":0.481},{"contour":6,"x":-0.073,"y":0.444},{"contour":6,"x":-0.007,"y":0.4},{"contour":6,"x":0.049,"y":0.351},{"contour":6,"x":0.098,"y":0.295},{"contour":6,"x":0.129,"y":0.249},{"contour":6,"x":0.171,"y":0.188},{"contour":6,"x":0.215,"y":0.107},
{"contour":7,"x":0.212,"y":0.041},{"contour":7,"x":0.21,"y":-0.015},{"contour":7,"x":0.203,"y":-0.095},{"contour":7,"x":0.188,"y":-0.185},{"contour":7,"x":0.154,"y":-0.259},{"contour":7,"x":0.098,"y":-0.315},{"contour":7,"x":0.032,"y":-0.337},{"contour":7,"x":-0.012,"y":-0.332},{"contour":7,"x":-0.049,"y":-0.3},{"contour":7,"x":-0.105,"y":-0.259},{"contour":7,"x":-0.171,"y":-0.21},{"contour":7,"x":-0.237,"y":-0.181},{"contour":7,"x":-0.293,"y":-0.137},{"contour":7,"x":-0.342,"y":-0.071},{"contour":7,"x":-0.383,"y":-0.039},{"contour":7,"x":-0.432,"y":0.01},{"contour":7,"x":-0.439,"y":0.046},{"contour":7,"x":-0.407,"y":0.083},{"contour":7,"x":-0.349,"y":0.09},{"contour":7,"x":-0.285,"y":0.132},{"contour":7,"x":-0.251,"y":0.181},{"contour":7,"x":-0.244,"y":0.246},{"contour":7,"x":-0.268,"y":0.303},{"contour":7,"x":-0.312,"y":0.351},{"contour":7,"x":-0.373,"y":0.395},{"contour":7,"x":-0.415,"y":0.425},{"contour":7,"x":-0.427,"y":0.456},{"contour":7,"x":-0.422,"y":0.473},{"contour":7,"x":-0.39,"y":0.503},{"contour":7,"x":-0.342,"y":0.505},{"contour":7,"x":-0.293,"y":0.515},{"contour":7,"x":-0.261,"y":0.517},{"contour":7,"x":-0.22,"y":0.505},{"contour":7,"x":-0.178,"y":0.473},{"contour":7,"x":-0.129,"y":0.437},{"contour":7,"x":-0.073,"y":0.417},{"contour":7,"x":-0.007,"y":0.376},{"contour":7,"x":0.049,"y":0.327},{"contour":7,"x":0.09,"y":0.278},{"contour":7,"x":0.115,"y":0.246},{"contour":7,"x":0.154,"y":0.181},{"contour":7,"x":0.195,"y":0.115},
{"contour":8,"x":0.195,"y":0.01},{"contour":8,"x":0.19,"y":-0.015},{"contour":8,"x":0.188,"y":-0.095},{"contour":8,"x":0.163,"y":-0.178},{"contour":8,"x":0.129,"y":-0.242},{"contour":8,"x":0.073,"y":-0.3},{"contour":8,"x":0.007,"y":-0.315},{"contour":8,"x":-0.041,"y":-0.303},{"contour":8,"x":-0.098,"y":-0.266},{"contour":8,"x":-0.154,"y":-0.21},{"contour":8,"x":-0.195,"y":-0.154},{"contour":8,"x":-0.244,"y":-0.112},{"contour":8,"x":-0.285,"y":-0.071},{"contour":8,"x":-0.3,"y":-0.015},{"contour":8,"x":-0.298,"y":0.002},{"contour":8,"x":-0.268,"y":0.066},{"contour":8,"x":-0.237,"y":0.1},{"contour":8,"x":-0.212,"y":0.173},{"contour":8,"x":-0.2,"y":0.237},{"contour":8,"x":-0.207,"y":0.295},{"contour":8,"x":-0.227,"y":0.334},{"contour":8,"x":-0.249,"y":0.376},{"contour":8,"x":-0.249,"y":0.417},{"contour":8,"x":-0.22,"y":0.432},{"contour":8,"x":-0.171,"y":0.412},{"contour":8,"x":-0.122,"y":0.383},{"contour":8,"x":-0.056,"y":0.376},{"contour":8,"x":0.007,"y":0.359},{"contour":8,"x":0.081,"y":0.303},{"contour":8,"x":0.142,"y":0.217},{"contour":8,"x":0.183,"y":0.107},
{"contour":9,"x":0.176,"y":0.01},{"contour":9,"x":0.181,"y":-0.015},{"contour":9,"x":0.171,"y":-0.095},{"contour":9,"x":0.146,"y":-0.178},{"contour":9,"x":0.115,"y":-0.234},{"contour":9,"x":0.056,"y":-0.278},{"contour":9,"x":0,"y":-0.29},{"contour":9,"x":-0.024,"y":-0.288},{"contour":9,"x":-0.073,"y":-0.266},{"contour":9,"x":-0.122,"y":-0.21},{"contour":9,"x":-0.171,"y":-0.144},{"contour":9,"x":-0.215,"y":-0.063},{"contour":9,"x":-0.224,"y":0.002},{"contour":9,"x":-0.212,"y":0.066},{"contour":9,"x":-0.178,"y":0.173},{"contour":9,"x":-0.146,"y":0.254},{"contour":9,"x":-0.105,"y":0.315},{"contour":9,"x":-0.056,"y":0.325},{"contour":9,"x":0.007,"y":0.31},{"contour":9,"x":0.081,"y":0.261},{"contour":9,"x":0.127,"y":0.193},{"contour":9,"x":0.159,"y":0.107},
{"contour":10,"x":0.159,"y":0.01},{"contour":10,"x":0.163,"y":-0.015},{"contour":10,"x":0.154,"y":-0.105},{"contour":10,"x":0.129,"y":-0.178},{"contour":10,"x":0.098,"y":-0.227},{"contour":10,"x":0.041,"y":-0.259},{"contour":10,"x":-0.017,"y":-0.264},{"contour":10,"x":-0.056,"y":-0.242},{"contour":10,"x":-0.105,"y":-0.193},{"contour":10,"x":-0.146,"y":-0.137},{"contour":10,"x":-0.183,"y":-0.056},{"contour":10,"x":-0.183,"y":0.017},{"contour":10,"x":-0.163,"y":0.115},{"contour":10,"x":-0.129,"y":0.205},{"contour":10,"x":-0.09,"y":0.273},{"contour":10,"x":-0.056,"y":0.285},{"contour":10,"x":0.007,"y":0.273},{"contour":10,"x":0.081,"y":0.222},{"contour":10,"x":0.142,"y":0.1},
{"contour":11,"x":0.142,"y":0.01},{"contour":11,"x":0.142,"y":-0.015},{"contour":11,"x":0.139,"y":-0.088},{"contour":11,"x":0.115,"y":-0.161},{"contour":11,"x":0.081,"y":-0.21},{"contour":11,"x":0.024,"y":-0.234},{"contour":11,"x":0,"y":-0.237},{"contour":11,"x":-0.032,"y":-0.229},{"contour":11,"x":-0.073,"y":-0.203},{"contour":11,"x":-0.115,"y":-0.154},{"contour":11,"x":-0.146,"y":-0.071},{"contour":11,"x":-0.151,"y":0.01},{"contour":11,"x":-0.151,"y":0.059},{"contour":11,"x":-0.122,"y":0.139},{"contour":11,"x":-0.081,"y":0.217},{"contour":11,"x":-0.041,"y":0.246},{"contour":11,"x":0.007,"y":0.237},{"contour":11,"x":0.073,"y":0.188},{"contour":11,"x":0.122,"y":0.107},
{"contour":12,"x":0.122,"y":0.01},{"contour":12,"x":0.12,"y":-0.015},{"contour":12,"x":0.115,"y":-0.081},{"contour":12,"x":0.09,"y":-0.137},{"contour":12,"x":0.049,"y":-0.185},{"contour":12,"x":0,"y":-0.2},{"contour":12,"x":-0.041,"y":-0.181},{"contour":12,"x":-0.081,"y":-0.137},{"contour":12,"x":-0.115,"y":-0.071},{"contour":12,"x":-0.127,"y":0.034},{"contour":12,"x":-0.105,"y":0.107},{"contour":12,"x":-0.073,"y":0.173},{"contour":12,"x":-0.032,"y":0.21},{"contour":12,"x":0,"y":0.2},{"contour":12,"x":0.056,"y":0.163},{"contour":12,"x":0.105,"y":0.1},
{"contour":13,"x":0.098,"y":0.01},{"contour":13,"x":0.1,"y":-0.015},{"contour":13,"x":0.09,"y":-0.071},{"contour":13,"x":0.066,"y":-0.12},{"contour":13,"x":0.024,"y":-0.154},{"contour":13,"x":-0.007,"y":-0.161},{"contour":13,"x":-0.054,"y":-0.12},{"contour":13,"x":-0.085,"y":-0.063},{"contour":13,"x":-0.1,"y":0.01},{"contour":13,"x":-0.09,"y":0.076},{"contour":13,"x":-0.056,"y":0.139},{"contour":13,"x":-0.017,"y":0.166},{"contour":13,"x":0.041,"y":0.149},{"contour":13,"x":0.081,"y":0.09},
{"contour":14,"x":0.068,"y":0.002},{"contour":14,"x":0.061,"y":-0.063},{"contour":14,"x":0.041,"y":-0.105},{"contour":14,"x":0,"y":-0.112},{"contour":14,"x":-0.049,"y":-0.071},{"contour":14,"x":-0.066,"y":-0.007},{"contour":14,"x":-0.066,"y":0.034},{"contour":14,"x":-0.041,"y":0.1},{"contour":14,"x":-0.005,"y":0.115},{"contour":14,"x":0.024,"y":0.107},{"contour":14,"x":0.056,"y":0.066}
]},
"vconcat":[
{"width":784,"height":42,"view":{"stroke":"#58595b","strokeWidth":1},"data":{"name":"bar"},"mark":{"type":"rect","strokeWidth":0.5},
"encoding":{"x":{"field":"from","type":"quantitative","scale":{"domain":[-4.3,539.2],"nice":false,"zero":false},"axis":{"orient":"top","values":[0,200,400],"title":null,"domain":false,"tickSize":-21,"tickColor":"#333335","labelPadding":24,"labelFlush":false,"labelOverlap":false,"format":"d","zindex":1}},"x2":{"field":"to"},
"color":{"field":"v","type":"quantitative","legend":null,"scale":{"domain":[0,1,2,3,5,9,13,17,20,25,33,45,56,77,111,146,200,250,305,354,400,458,539],"range":["#ffffff","#f5f5f5","#ebebec","#e4e4e5","#d7d8da","#cbcccf","#c2c3c6","#babbbe","#b1b2b5","#a8a9ac","#9c9da0","#8a8b8e","#7f8083","#707174","#636467","#58595b","#4a4a4c","#414143","#3a3a3c","#333335","#2c2b2c","#282627","#231f20"]}},
"stroke":{"field":"v","type":"quantitative","legend":null,"scale":{"domain":[0,1,2,3,5,9,13,17,20,25,33,45,56,77,111,146,200,250,305,354,400,458,539],"range":["#ffffff","#f5f5f5","#ebebec","#e4e4e5","#d7d8da","#cbcccf","#c2c3c6","#babbbe","#b1b2b5","#a8a9ac","#9c9da0","#8a8b8e","#7f8083","#707174","#636467","#58595b","#4a4a4c","#414143","#3a3a3c","#333335","#2c2b2c","#282627","#231f20"]}}}},
{"width":784,"height":661,
"encoding":{"x":{"field":"x","type":"quantitative","axis":null,"scale":{"domain":[0.5056,-1.4094],"nice":false,"zero":false}},"y":{"field":"y","type":"quantitative","axis":null,"scale":{"domain":[-0.6171,0.9951],"nice":false,"zero":false}}},
"resolve":{"axis":{"x":"independent","y":"independent"}},
"layer":[
{"data":{"name":"grid"},"mark":{"type":"rect","width":41.6,"height":41.6,"clip":true},
"encoding":{"x":{"field":"x","type":"quantitative","title":"MilliARC SEC","scale":{"domain":[0.5056,-1.4094],"nice":false,"zero":false},"axis":{"orient":"bottom","zindex":1,"values":[0.4,0.2,0,-0.2,-0.4,-0.6,-0.8,-1,-1.2,-1.4],"labelExpr":"replace(format(datum.value,'.1f'),'−','-')","tickSize":-18.5,"tickColor":"#333335","domainColor":"#4d4d4f","domainWidth":1.8,"labelAlign":"right","labelPadding":28.5,"labelFlush":false,"labelOverlap":false,"labelOffset":{"condition":{"test":"datum.value<0","value":-4},"value":-1},"titleX":384.5,"titleY":29,"titleAnchor":null,"titleAlign":"center"}},
"y":{"field":"y","type":"quantitative","title":"MilliARC SEC","scale":{"domain":[-0.6171,0.9951],"nice":false,"zero":false},"axis":{"orient":"left","zindex":1,"values":[0.8,0.6,0.4,0.2,0,-0.2,-0.4,-0.6],"labelExpr":"replace(format(datum.value,'.1f'),'−','-')","tickSize":-18.5,"tickColor":"#333335","domainColor":"#333335","domainWidth":1.8,"labelPadding":{"condition":{"test":"datum.value<0","value":38},"value":33.5},"labelFlush":false,"labelOverlap":false,"labelOffset":4,"titleX":-56,"titleY":336,"titleAnchor":null,"titleAlign":"center"}},
"color":{"field":"v","type":"quantitative","legend":null,"scale":{"domain":[0,0.8,1,1.5,2,3,5,9],"range":["#f8f8f8","#f5f5f5","#f2f2f2","#eeeeef","#ebebec","#e8e8e9","#e3e3e4","#e0e0e1"]}}}},
{"data":{"name":"contours"},"mark":{"type":"line","interpolate":"catmull-rom-closed","clip":true,"strokeWidth":1.35,"strokeJoin":"round"},
"encoding":{"order":{"value":null},"detail":{"field":"contour","type":"nominal"},
"fill":{"field":"contour","type":"nominal","legend":null,"scale":{"domain":[1,17,18,19,2,15,3,16,4,5,6,7,8,9,10,11,12,13,14],"range":["#dadbdd","#dcdddf","#cbcccf","#cbcccf","#cdced1","#cdced1","#c3c4c7","#c3c4c7","#babbbe","#b1b2b5","#a8a9ac","#9c9da0","#7f8083","#6f7073","#606164","#525355","#444446","#363537","#272425"]}},
"stroke":{"field":"contour","type":"nominal","legend":null,"scale":{"domain":[1,17,18,19,2,15,3,16,4,5,6,7,8,9,10,11,12,13,14],"range":["#231f20","#231f20","#231f20","#231f20","#231f20","#231f20","#231f20","#231f20","#231f20","#231f20","#231f20","#231f20","#ffffff","#ffffff","#ffffff","#ffffff","#ffffff","#ffffff","#ffffff"]}}}},
{"data":{"values":[{"x":0.329,"y":0.895},{"x":0.293,"y":0.871},{"x":0.268,"y":0.773},{"x":0.285,"y":0.676},{"x":0.325,"y":0.62},{"x":0.359,"y":0.6},{"x":0.395,"y":0.62},{"x":0.417,"y":0.725},{"x":0.395,"y":0.822},{"x":0.361,"y":0.883}]},"mark":{"type":"line","interpolate":"catmull-rom-closed","stroke":"#231f20","strokeWidth":1.5},"encoding":{"order":{"value":null}}},
{"data":{"values":[{"x":0.469,"y":0.961},{"x":0.219,"y":0.961},{"x":0.219,"y":0.539},{"x":0.469,"y":0.539}]},"mark":{"type":"line","interpolate":"linear-closed","stroke":"#333335","strokeWidth":1.2},
"encoding":{"order":{"value":null},"x":{"field":"x","type":"quantitative","title":null,"scale":{"domain":[0.5056,-1.4094],"nice":false,"zero":false},"axis":{"orient":"top","zindex":1,"values":[0.4,0.2,0,-0.2,-0.4,-0.6,-0.8,-1,-1.2,-1.4],"labels":false,"tickSize":-18.5,"tickColor":"#333335","domainColor":"#58595b","domainWidth":1.5}},
"y":{"field":"y","type":"quantitative","title":null,"scale":{"domain":[-0.6171,0.9951],"nice":false,"zero":false},"axis":{"orient":"right","zindex":1,"values":[0.8,0.6,0.4,0.2,0,-0.2,-0.4,-0.6],"labels":false,"tickSize":-18.5,"tickColor":"#4d4d4f","domainColor":"#58595b","domainWidth":1}}}},
{"data":{"values":[{"x":0.002,"y":0.002},{"x":-0.393,"y":0.239}]},"mark":{"type":"line","stroke":"#f15a29","strokeWidth":4.2},"encoding":{"order":{"value":null}}},
{"data":{"values":[{"x":-0.061,"y":0.429},{"x":-0.366,"y":-0.117}]},"mark":{"type":"line","stroke":"#232a75","strokeWidth":3},"encoding":{"order":{"value":null}}},
{"data":{"values":[{"x":-0.337,"y":0.259,"label":"Z"}]},"mark":{"type":"text","font":"Open Sans","fontSize":24,"angle":335,"color":"#333335","align":"center","baseline":"middle"},"encoding":{"text":{"field":"label"}}},
{"data":{"values":[{"x":-0.37,"y":-0.005,"label":"ρ"}]},"mark":{"type":"text","font":"Open Sans","fontSize":25,"color":"#333335","align":"center","baseline":"middle"},"encoding":{"text":{"field":"label"}}}
]}
]}
